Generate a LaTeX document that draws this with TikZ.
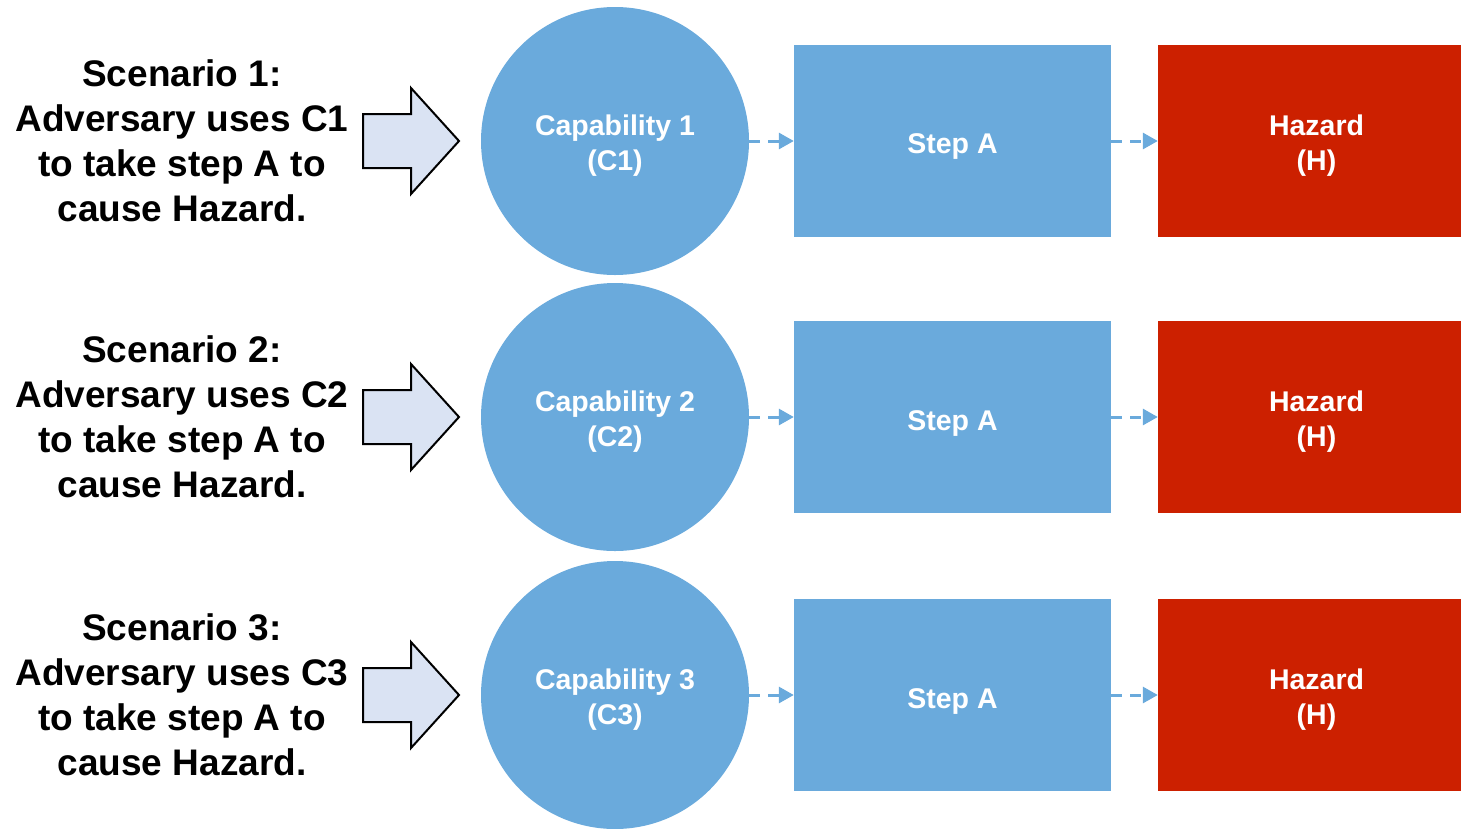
\documentclass[tikz,border=0pt]{standalone}
\usepackage{fontspec}
\setmainfont{Liberation Sans}
\usetikzlibrary{arrows.meta}
\definecolor{capblue}{HTML}{6AAADC}
\definecolor{hazred}{HTML}{CC2000}
\definecolor{arrowfill}{HTML}{DAE3F3}
\begin{document}
\begin{tikzpicture}[x=1pt,y=-1pt,
  boxtext/.style={text=white, inner sep=0pt, align=center,
    font=\fontsize{28.5}{35}\selectfont\bfseries},
  capcircle/.style={circle, fill=capblue, minimum size=268pt, inner sep=0pt},
  stepbox/.style={rectangle, fill=capblue, inner sep=0pt,
    minimum width=317pt, minimum height=192pt},
  hazbox/.style={rectangle, fill=hazred, inner sep=0pt,
    minimum width=317pt, minimum height=192pt},
  scen/.style={align=center, inner sep=0pt,
    font=\fontsize{37}{45}\selectfont\bfseries},
  flow/.style={draw=capblue, line width=3pt, dash pattern=on 11pt off 8pt,
    -{Triangle[length=15pt,width=16pt]}},
  bigarrow/.style={draw=black, line width=2pt, fill=arrowfill, line join=miter}]
\useasboundingbox (0,0) rectangle (1461,828);
\foreach \i/\y in {1/141,2/417,3/695}{
  % scenario description and pointer arrow
  \node[scen] (scen\i) at (182,\y)
    {Scenario \i:\\Adversary uses C\i\\to take step A to\\cause Hazard.};
  \draw[bigarrow] (363,\y-27) -- (411,\y-27) -- (411,\y-53) -- (459,\y)
    -- (411,\y+53) -- (411,\y+27) -- (363,\y+27) -- cycle;
  % capability, step and hazard chain
  \node[capcircle] (cap\i) at (615,\y) {};
  \node[stepbox] (step\i) at (952.5,\y) {};
  \node[hazbox] (haz\i) at (1316.5,\y) {};
  \node[boxtext] (capt\i) at ([yshift=-4.5pt]cap\i.center) {Capability \i\\(C\i)};
  \node[boxtext] (stept\i) at ([yshift=-6pt]step\i.center) {Step A};
  \node[boxtext] (hazt\i) at ([yshift=-4.5pt]haz\i.center) {Hazard\\(H)};
  \draw[flow] (cap\i.east) -- (step\i.west);
  \draw[flow] (step\i.east) -- (haz\i.west);
}
\end{tikzpicture}
\end{document}
